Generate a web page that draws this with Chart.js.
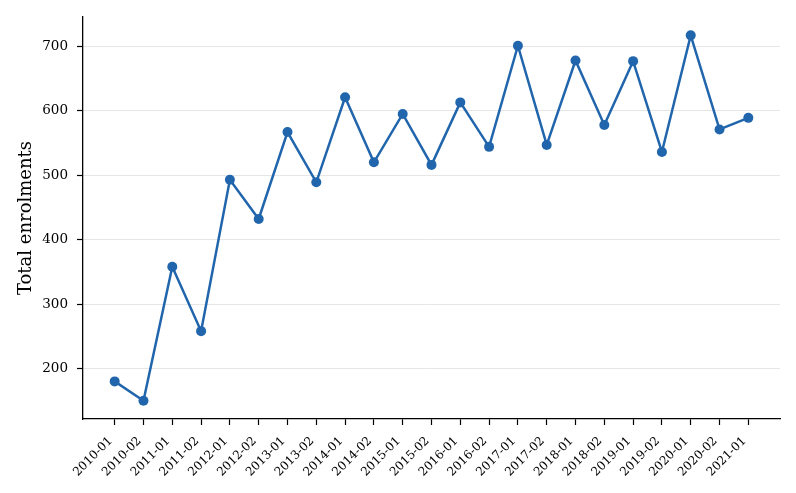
<!DOCTYPE html>
<html>
<head>
<meta charset="utf-8">
<script src="https://cdn.jsdelivr.net/npm/chart.js@4"></script>
<style>
  html, body { margin: 0; padding: 0; background: #fff; }
  #wrap { width: 796px; height: 493px; position: relative; }
</style>
</head>
<body>
<div id="wrap"><canvas id="chart" width="796" height="493"></canvas></div>
<script>
// Semester labels
const terms = [
    '2010-01', '2010-02', '2011-01', '2011-02', '2012-01', '2012-02',
    '2013-01', '2013-02', '2014-01', '2014-02', '2015-01', '2015-02',
    '2016-01', '2016-02', '2017-01', '2017-02', '2018-01', '2018-02',
    '2019-01', '2019-02', '2020-01', '2020-02', '2021-01'
];

// Total enrolments per semester
const enrolments = [
    180, 150, 358, 258, 493, 432,
    567, 489, 621, 520, 595, 516,
    613, 544, 701, 547, 678, 578,
    677, 536, 717, 571, 589
];

const yTicks = [200, 300, 400, 500, 600, 700];

const serif = "'DejaVu Serif', serif";
const lineColor = '#2166ac';

// matplotlib style 5% margins
const yLo = Math.min(...enrolments), yHi = Math.max(...enrolments);
const yPad = (yHi - yLo) * 0.05;
const xPad = (terms.length - 1) * 0.05;

new Chart(document.getElementById('chart'), {
    type: 'line',
    data: {
        datasets: [{
            label: 'Total enrolments',
            data: enrolments.map((v, i) => ({ x: i, y: v })),
            borderColor: lineColor,
            backgroundColor: lineColor,
            borderWidth: 2.5,
            pointRadius: 5,
            pointBorderWidth: 0,
            tension: 0,
            fill: false
        }]
    },
    options: {
        responsive: false,
        animation: false,
        layout: { padding: { top: 14, right: 16, left: 0, bottom: 0 } },
        plugins: {
            legend: { display: false },
            tooltip: { enabled: false }
        },
        scales: {
            x: {
                type: 'linear',
                min: -xPad,
                max: terms.length - 1 + xPad,
                afterBuildTicks: axis => {
                    axis.ticks = terms.map((t, i) => ({ value: i }));
                },
                afterFit: axis => { axis.height = 74; },
                ticks: {
                    autoSkip: false,
                    minRotation: 45,
                    maxRotation: 45,
                    padding: 9,
                    labelOffset: -4,
                    color: '#000',
                    font: { family: serif, size: 12 },
                    callback: v => terms[v]
                },
                grid: {
                    drawOnChartArea: false,
                    tickLength: 6,
                    tickColor: '#000',
                    tickWidth: 1.2
                },
                border: { color: '#000', width: 1.3 }
            },
            y: {
                min: yLo - yPad,
                max: yHi + yPad,
                afterBuildTicks: axis => {
                    axis.ticks = yTicks.map(v => ({ value: v }));
                },
                afterFit: axis => { axis.width = 83; },
                ticks: {
                    padding: 9,
                    color: '#000',
                    font: { family: serif, size: 13.5 }
                },
                grid: {
                    color: '#e6e6e6',
                    lineWidth: 1,
                    tickLength: 6,
                    tickColor: '#000',
                    tickWidth: 1.2
                },
                border: { color: '#000', width: 1.3 },
                title: {
                    display: true,
                    text: 'Total enrolments',
                    color: '#000',
                    font: { family: serif, size: 18 },
                    padding: { top: 16, bottom: 0 }
                }
            }
        }
    }
});
</script>
</body>
</html>
